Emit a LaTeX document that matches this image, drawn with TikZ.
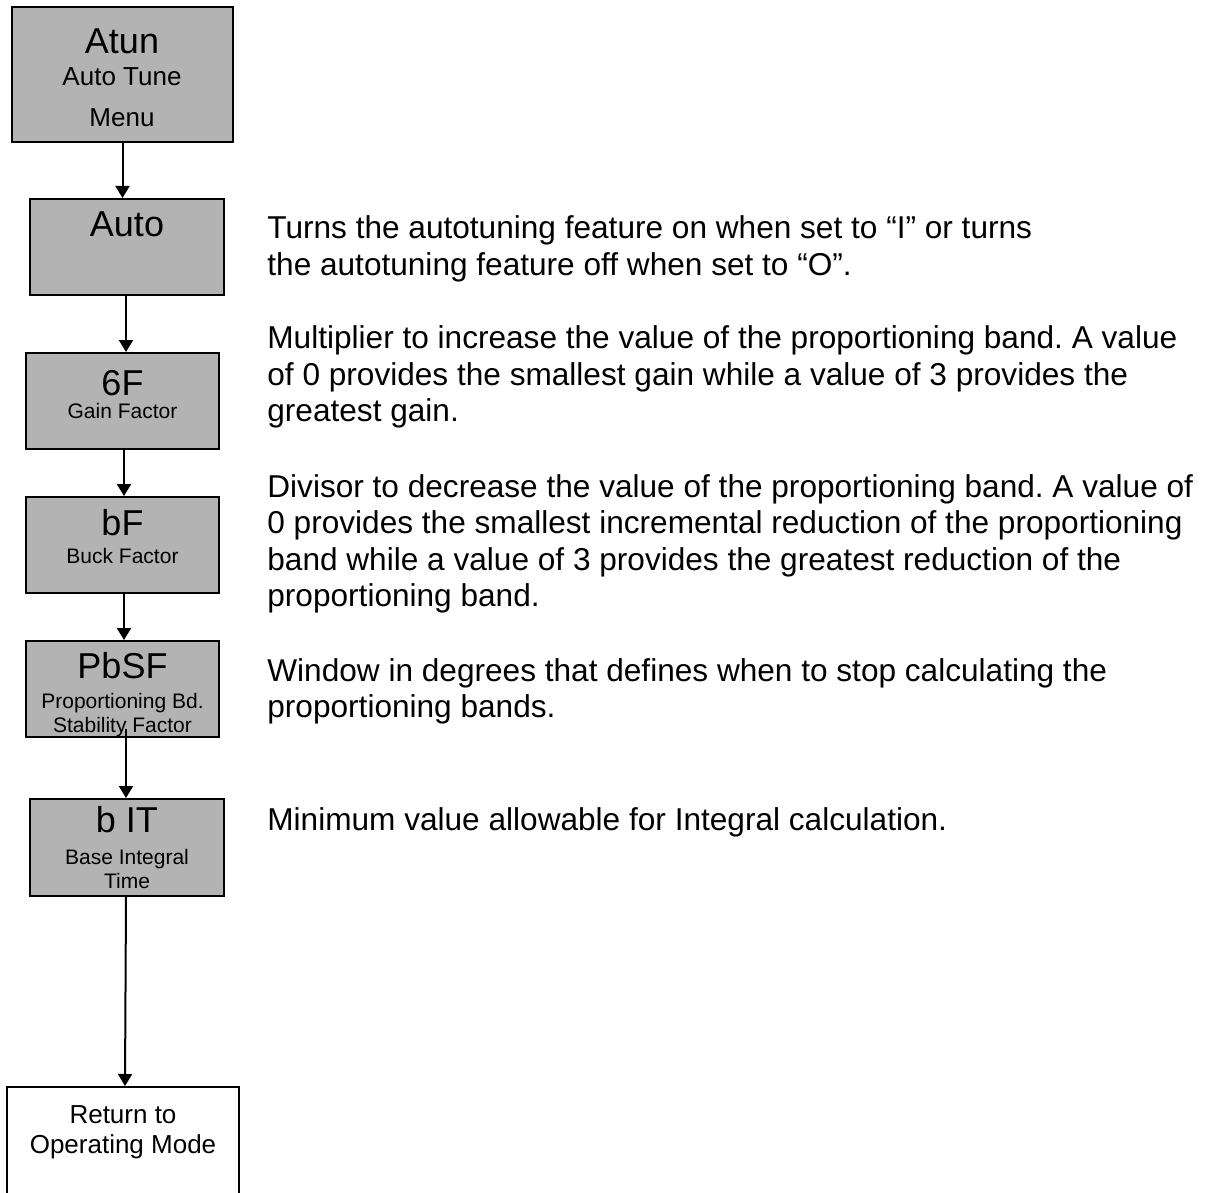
\documentclass[tikz,border=0pt]{standalone}
\usepackage{fontspec}
\setmainfont{Liberation Sans}
\usepackage{tikz}
\usetikzlibrary{positioning,calc,arrows.meta}
\definecolor{menugray}{RGB}{179,179,179}
\frenchspacing

\begin{document}
\begin{tikzpicture}[
    x=0.5pt, y=-0.5pt,
    menu/.style={rectangle, draw, line width=1pt, fill=menugray, inner sep=0pt},
    exitbox/.style={rectangle, draw, line width=1pt, fill=white, inner sep=0pt},
    title/.style={anchor=base, inner sep=0pt, font=\fontsize{18}{21}\selectfont},
    sub/.style={anchor=base, inner sep=0pt, align=center, font=\fontsize{10.5}{12}\selectfont},
    subbig/.style={anchor=base, inner sep=0pt, align=center, font=\fontsize{13}{15}\selectfont},
    desc/.style={anchor=base west, inner sep=0pt, align=left, font=\fontsize{15.8}{18.25}\selectfont},
    arrow/.style={-{Triangle[width=7pt,length=6pt]}, line width=1pt}
]
\useasboundingbox (0,0) rectangle (1212,1193);

% Atun node
\node[menu, minimum width=110.5pt, minimum height=67.5pt] (atun) at (122.5,74.5) {};
\node[title] (atunT) at (122,54) {Atun};
\node[subbig] (atunS) at (122,86) {Auto Tune};
\node[subbig] (atunM) at (122,127) {Menu};

% Auto node
\node[menu, minimum width=97pt, minimum height=48pt] (auto) at (127,247) {};
\node[title] (autoT) at (127,237) {Auto};

% Gain factor node
\node[menu, minimum width=96.5pt, minimum height=48pt] (gf) at (122.5,401) {};
\node[title] (gfT) at (122.5,395) {6F};
\node[sub] (gfS) at (122.5,418) {Gain Factor};

% Buck factor node
\node[menu, minimum width=96.5pt, minimum height=48pt] (bf) at (122.5,545) {};
\node[title] (bfT) at (122.5,535) {bF};
\node[sub] (bfS) at (122.5,563) {Buck Factor};

% Stability factor node
\node[menu, minimum width=96.5pt, minimum height=48pt] (pbsf) at (122.5,689) {};
\node[title] (pbsfT) at (122.5,678) {PbSF};
\node[sub] (pbsfS) at (122.5,708) {Proportioning Bd.};
\node[sub] (pbsfS2) at (122.5,732) {Stability Factor};

% Base integral node
\node[menu, minimum width=97pt, minimum height=48.5pt] (bit) at (127,847.5) {};
\node[title] (bitT) at (127,832) {b IT};
\node[sub] (bitS) at (127,864) {Base Integral};
\node[sub] (bitS2) at (127,888) {Time};

% Exit node
\node[exitbox, minimum width=116pt, minimum height=64pt] (exit) at (123,1151) {};
\node[subbig] (exitT) at (123,1123) {Return to};
\node[subbig] (exitS) at (123,1153) {Operating Mode};

% Arrows
\draw[arrow] (atun.south) -- (atun.south |- auto.north);
\draw[arrow] ($(auto.south)+(-1,0)$) -- ($(gf.north)+(3.5,0)$);
\draw[arrow] ($(gf.south)+(1.5,0)$) -- ($(bf.north)+(1.5,0)$);
\draw[arrow] ($(bf.south)+(1.5,0)$) -- ($(pbsf.north)+(1.5,0)$);
\draw[arrow] ($(pbsf.south -| bit.north)+(-1,-9)$) -- ($(bit.north)+(-1,0)$);
\draw[arrow] ($(bit.south)+(-1,0)$) -- ($(exit.north)+(2,0)$);

% Descriptions (placed at the baseline of their last line)
\node[desc] (dAuto) at (267,275.5) {Turns the autotuning feature on when set to “I” or turns\\the autotuning feature off when set to “O”.};
\node[desc] (dGf) at (267,422) {Multiplier to increase the value of the proportioning band. A value\\of 0 provides the smallest gain while a value of 3 provides the\\greatest gain.};
\node[desc] (dBf) at (267,606.5) {Divisor to decrease the value of the proportioning band. A value of\\0 provides the smallest incremental reduction of the proportioning\\band while a value of 3 provides the greatest reduction of the\\proportioning band.};
\node[desc] (dPbsf) at (267,717.5) {Window in degrees that defines when to stop calculating the\\proportioning bands.};
\node[desc] (dBit) at (267,830) {Minimum value allowable for Integral calculation.};

\end{tikzpicture}
\end{document}
